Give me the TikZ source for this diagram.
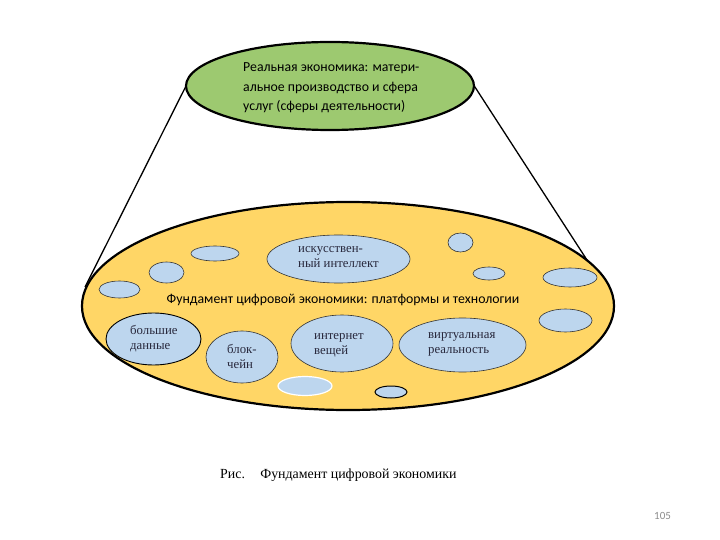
\documentclass[tikz,border=0pt]{standalone}
\usepackage{fontspec}
\setmainfont{Liberation Serif}
\newfontfamily\calib{Carlito}
\usetikzlibrary{shapes.geometric}
\definecolor{topgreen}{RGB}{157,201,112}
\definecolor{baseyellow}{RGB}{255,214,102}
\definecolor{bubble}{RGB}{189,214,238}
\definecolor{pagenum}{RGB}{140,140,140}
\definecolor{bubink}{RGB}{40,40,60}
\tikzset{
  bub/.style={ellipse, draw=black!80, line width=0.6pt, fill=bubble, inner sep=0pt},
  bubtext/.style={anchor=base west, text=bubink, font=\fontsize{12.8}{15}\selectfont, align=left, inner sep=0pt},
  bigell/.style={ellipse, draw=black, line width=2.2pt, inner sep=0pt},
}
\begin{document}
\begin{tikzpicture}[x=1pt,y=-1pt]
\useasboundingbox (0,0) rectangle (720,540);
% connectors
\coordinate (tl) at (187,84);
\coordinate (tr) at (473,84);
\coordinate (bl) at (85,287);
\coordinate (br) at (598,277);
\draw[line width=1.3pt] (tl) -- (bl);
\draw[line width=1.3pt] (tr) -- (br);
% base ellipse
\node[bigell, fill=baseyellow, minimum width=532pt, minimum height=208pt] (base) at (348,306) {};
% top ellipse
\node[bigell, fill=topgreen, minimum width=288pt, minimum height=88pt] (top) at (330,86) {};
\node[anchor=base west, inner sep=0pt, align=left, font=\calib\fontsize{13.8}{19.5}\selectfont] (toptext) at (243,111)
 {Реальная экономика: матери-\\альное производство и сфера\\услуг (сферы деятельности)};
% small bubbles
\node[bub, minimum width=48pt, minimum height=15pt] (s1) at (215,253.5) {};
\node[bub, minimum width=35pt, minimum height=21pt] (s2) at (166.5,272.5) {};
\node[bub, minimum width=41pt, minimum height=17pt] (s3) at (119.5,289.5) {};
\node[bub, minimum width=25pt, minimum height=19pt] (s4) at (460.5,242.5) {};
\node[bub, minimum width=32pt, minimum height=13pt] (s5) at (489,273.5) {};
\node[bub, minimum width=54pt, minimum height=19pt] (s6) at (570,277.5) {};
\node[bub, minimum width=53pt, minimum height=23pt] (s7) at (565.5,320.5) {};
\node[bub, draw=white, line width=1.2pt, minimum width=54pt, minimum height=19pt] (s8) at (305,386) {};
\node[bub, draw=black, line width=1pt, minimum width=32pt, minimum height=12pt] (s9) at (391,392) {};
% labelled bubbles
\node[bub, minimum width=143pt, minimum height=48pt] (ai) at (338.5,259) {};
\node[bubtext] (aitext) at (298,267) {искусствен-\\ный интеллект};
\node[bub, draw=black, line width=0.9pt, minimum width=95pt, minimum height=52pt] (bd) at (153.5,339) {};
\node[bubtext] (bdtext) at (130,349) {большие\\данные};
\node[bub, minimum width=72pt, minimum height=52pt] (bc) at (242,357) {};
\node[bubtext] (bctext) at (227,368) {блок-\\чейн};
\node[bub, minimum width=102pt, minimum height=57pt] (iot) at (342,343.5) {};
\node[bubtext] (iottext) at (314,354) {интернет\\вещей};
\node[bub, minimum width=127pt, minimum height=54pt] (vr) at (462.5,345) {};
\node[bubtext] (vrtext) at (428,353) {виртуальная\\реальность};
% base label
\node[anchor=base, font=\calib\fontsize{13.8}{17}\selectfont, inner sep=0pt] (basetext) at (343,303) {Фундамент цифровой экономики: платформы и технологии};
% caption
\node[anchor=base west, inner sep=0pt, font=\fontsize{13.9}{16}\selectfont] (cap) at (220,478) {Рис.\hspace{1.1em}Фундамент цифровой экономики};
\node[anchor=base west, inner sep=0pt, text=pagenum, font=\calib\fontsize{11}{13}\selectfont] (pg) at (654,519) {105};
\end{tikzpicture}
\end{document}
